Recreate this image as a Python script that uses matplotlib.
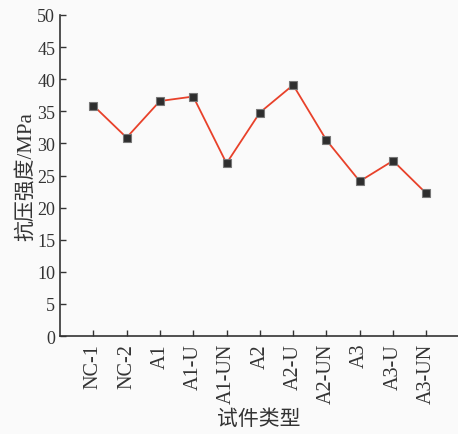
import matplotlib.pyplot as plt

types = ["NC-1", "NC-2", "A1", "A1-U", "A1-UN", "A2", "A2-U", "A2-UN", "A3", "A3-U", "A3-UN"]
strength = [35.9, 30.9, 36.6, 37.3, 26.9, 34.8, 39.1, 30.5, 24.1, 27.3, 22.2]
yticks = [0, 5, 10, 15, 20, 25, 30, 35, 40, 45, 50]

plt.rcParams['font.family'] = ['Liberation Serif', 'Noto Sans CJK SC']
plt.rcParams['text.color'] = '#333333'

fig = plt.figure(figsize=(4.58, 4.35), dpi=100, facecolor='#fafafa')
ax = fig.add_axes([60 / 458, 1 - 337 / 435, 1 - 60 / 458, (337 - 16) / 435])
ax.set_facecolor('#fafafa')

x = list(range(len(types)))
ax.plot(x, strength, color='#e8412a', lw=1.3, zorder=2)
ax.plot(x, strength, ls='none', marker='s', ms=6, mfc='#2e2e2e', mec='#777777', mew=0.8, zorder=3)

ax.set_xlim(-1, 10.95)
ax.set_ylim(0, 50)
ax.set_yticks(yticks)
ax.set_xticks(x)
ax.set_xticklabels(types, rotation=90)

for s in ['top', 'right']:
    ax.spines[s].set_visible(False)
for s in ['left', 'bottom']:
    ax.spines[s].set_color('#333333')
    ax.spines[s].set_linewidth(1.2)

ax.tick_params(direction='in', length=4, width=1, color='#333333', labelcolor='#333333', labelsize=13)
ax.tick_params(axis='x', labelsize=14.5, pad=5)
ax.set_ylabel("抗压强度/MPa", fontsize=15, color='#333333', labelpad=1)
ax.set_xlabel("试件类型", fontsize=15, color='#333333', labelpad=4)

fig.savefig("out.png", dpi=100, facecolor=fig.get_facecolor())
